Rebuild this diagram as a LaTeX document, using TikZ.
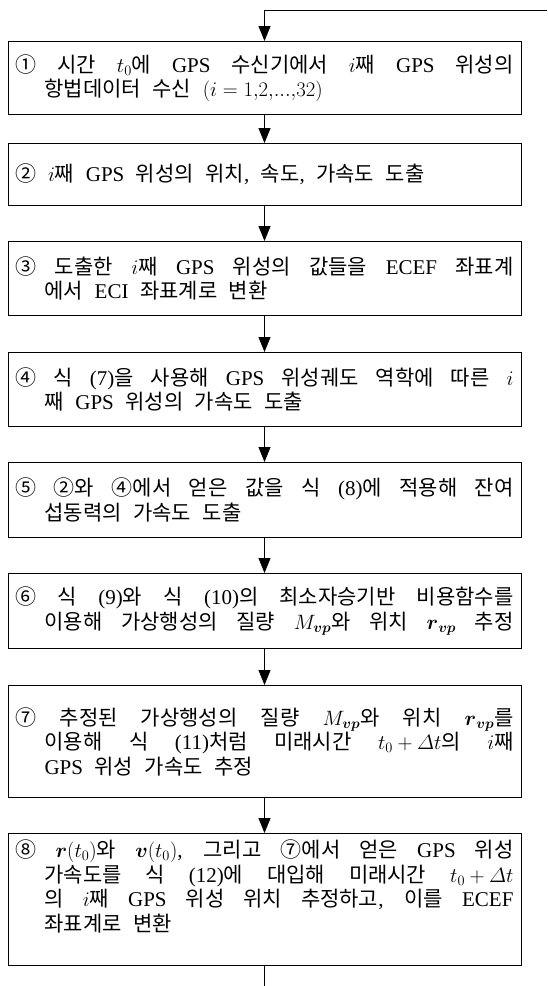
\documentclass[tikz,border=0pt]{standalone}
\usepackage{amsmath}
\usepackage{fontspec}
\setmainfont{Liberation Serif}
\newfontfamily\krfont{Noto Sans CJK KR}
\usetikzlibrary{arrows.meta}
\XeTeXinterchartokenstate=1
\newXeTeXintercharclass\krclass
\newcount\krc
\krc="21 \loop \XeTeXcharclass\krc=0 \advance\krc by 1 \ifnum\krc<"7F \repeat
\krc="AC00 \loop \XeTeXcharclass\krc=\krclass \advance\krc by 1 \ifnum\krc<"D7A4 \repeat
\krc="2460 \loop \XeTeXcharclass\krc=\krclass \advance\krc by 1 \ifnum\krc<"2474 \repeat
\XeTeXinterchartoks 0 \krclass = {\krfont}
\XeTeXinterchartoks 4095 \krclass = {\krfont}
\XeTeXinterchartoks \krclass 0 = {\rmfamily}
\XeTeXinterchartoks \krclass 4095 = {\rmfamily}
\newcommand\jfirst[1]{\makebox[498pt][s]{\spaceskip=.55em plus 1fil\relax #1}}
\newcommand\jmid[1]{\hspace*{29pt}\makebox[469pt][s]{\spaceskip=.55em plus 1fil\relax #1}}
\newcommand\jlast[1]{\hspace*{29pt}{\spaceskip=.55em\relax #1}}
\tikzset{
  box/.style={draw, line width=0.9pt, text width=498pt, inner xsep=7.5pt, inner ysep=0pt,
    align=left, anchor=north, font=\fontsize{21}{24.5}\selectfont},
  link/.style={line width=0.9pt, -{Triangle[length=15pt,width=12pt]}},
  plain/.style={line width=0.9pt}
}
\begin{document}
\begin{tikzpicture}[x=1pt,y=1pt]
\useasboundingbox (0,0) rectangle (547,-986);
\node[box, minimum height=73pt] (b1) at (264.5,-41)
  {\jfirst{① 시간 $t_0$에 GPS 수신기에서 $i$째 GPS 위성의}\\\jlast{항법데이터 수신 $(i=1{,}2{,}...{,}32)$}};
\node[box, minimum height=62pt] (b2) at (264.5,-143)
  {{\spaceskip=.55em\relax ② $i$째 GPS 위성의 위치, 속도, 가속도 도출}};
\node[box, minimum height=74pt] (b3) at (264.5,-241)
  {\jfirst{③ 도출한 $i$째 GPS 위성의 값들을 ECEF 좌표계}\\\jlast{에서 ECI 좌표계로 변환}};
\node[box, minimum height=74pt] (b4) at (264.5,-352)
  {\jfirst{④ 식 (7)을 사용해 GPS 위성궤도 역학에 따른 $i$}\\\jlast{째 GPS 위성의 가속도 도출}};
\node[box, minimum height=75pt] (b5) at (264.5,-462)
  {\jfirst{⑤ ②와 ④에서 얻은 값을 식 (8)에 적용해 잔여}\\\jlast{섭동력의 가속도 도출}};
\node[box, minimum height=75pt] (b6) at (264.5,-573)
  {\jfirst{⑥ 식 (9)와 식 (10)의 최소자승기반 비용함수를}\\\jmid{이용해 가상행성의 질량 $M_{\boldsymbol{vp}}$와 위치 $\boldsymbol{r}_{\boldsymbol{vp}}$ 추정}};
\node[box, minimum height=112pt] (b7) at (264.5,-685)
  {\jfirst{⑦ 추정된 가상행성의 질량 $M_{\boldsymbol{vp}}$와 위치 $\boldsymbol{r}_{\boldsymbol{vp}}$를}\\\jmid{이용해 식 (11)처럼 미래시간 $t_0+\varDelta t$의 $i$째}\\\jlast{GPS 위성 가속도 추정}};
\node[box, minimum height=132pt] (b8) at (264.5,-833)
  {\jfirst{⑧ $\boldsymbol{r}(t_0)$와 $\boldsymbol{v}(t_0)$, 그리고 ⑦에서 얻은 GPS 위성}\\\jmid{가속도를 식 (12)에 대입해 미래시간 $t_0+\varDelta t$}\\\jmid{의 $i$째 GPS 위성 위치 추정하고, 이를 ECEF}\\\jlast{좌표계로 변환\rule[-28pt]{0pt}{28pt}}};
\coordinate (tr) at (547,-10);
\coordinate (tc) at (264.5,-10);
\coordinate (bot) at (264.5,-986);
\draw[link] (tr) -- (tc) -- (b1.north);
\draw[link] (b1.south) -- (b2.north);
\draw[link] (b2.south) -- (b3.north);
\draw[link] (b3.south) -- (b4.north);
\draw[link] (b4.south) -- (b5.north);
\draw[link] (b5.south) -- (b6.north);
\draw[link] (b6.south) -- (b7.north);
\draw[link] (b7.south) -- (b8.north);
\draw[plain] (b8.south) -- (bot);
\end{tikzpicture}
\end{document}
